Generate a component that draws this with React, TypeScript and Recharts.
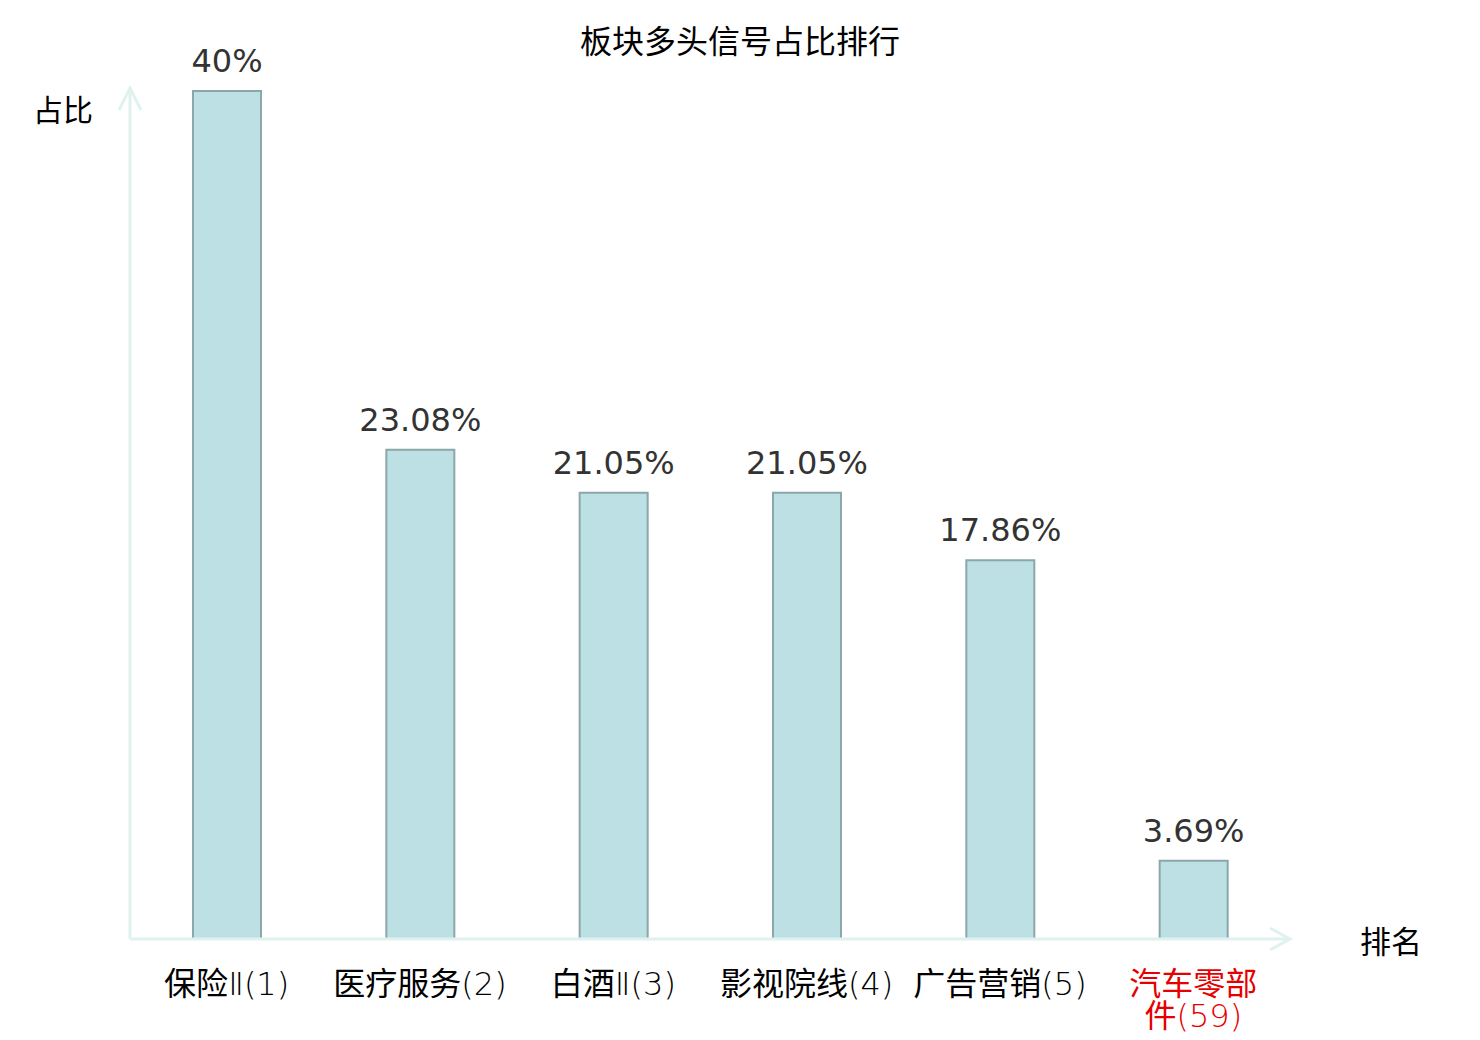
import React from "react";
import { BarChart, Bar, XAxis, YAxis, LabelList, Customized } from "recharts";

const categories = ["保险Ⅱ(1)", "医疗服务(2)", "白酒Ⅱ(3)", "影视院线(4)", "广告营销(5)", "汽车零部件(59)"];
const ratios = [40, 23.08, 21.05, 21.05, 17.86, 3.69];
const highlightCategory = "汽车零部件(59)";
const titleText = "板块多头信号占比排行";
const yAxisName = "占比";
const xAxisName = "排名";

const data = categories.map((name, i) => ({ name, value: ratios[i] }));

const W = 1480;
const H = 1040;
const M = { top: 91, right: 190, bottom: 61, left: 130 };
const X_AXIS_H = 40;
const plotLeft = M.left;
const plotRight = W - M.right;
const plotBottom = H - M.bottom - X_AXIS_H;

const CJK_FONT = '"Noto Sans CJK SC", "Noto Sans", sans-serif';
const LATIN_FONT = '"DejaVu Sans", sans-serif';
const AXIS_COLOR = "#dff2f0";
const TICK_FS = 32;

const isCJK = (c: string) => /[\u2E80-\u9FFF\uFF00-\uFFEF]/.test(c);
const charW = (c: string) => (isCJK(c) ? 1 : c === "(" || c === ")" ? 0.39 : 0.636);

function wrapLabel(text: string, maxWidth: number, fs: number): string[] {
  const chars = Array.from(text);
  const tokens: string[] = [];
  let i = 0;
  while (i < chars.length) {
    let tok = chars[i];
    i++;
    while (i < chars.length && !isCJK(chars[i])) {
      tok += chars[i];
      i++;
    }
    tokens.push(tok);
  }
  const lines: string[] = [];
  let cur = "";
  let curW = 0;
  for (const t of tokens) {
    const tw = Array.from(t).reduce((s, c) => s + charW(c) * fs, 0);
    if (cur && curW + tw > maxWidth) {
      lines.push(cur);
      cur = t;
      curW = tw;
    } else {
      cur += t;
      curW += tw;
    }
  }
  if (cur) lines.push(cur);
  return lines;
}

function splitRuns(line: string): { text: string; cjk: boolean }[] {
  const runs: { text: string; cjk: boolean }[] = [];
  for (const c of Array.from(line)) {
    const cj = isCJK(c);
    if (runs.length && runs[runs.length - 1].cjk === cj) runs[runs.length - 1].text += c;
    else runs.push({ text: c, cjk: cj });
  }
  return runs;
}

const CategoryTick = (props: any) => {
  const { x, y, payload } = props;
  const band = (plotRight - plotLeft) / categories.length;
  const lines = wrapLabel(String(payload.value), band, TICK_FS);
  const color = payload.value === highlightCategory ? "#e60000" : "#000000";
  return (
    <g>
      {lines.map((l, k) => (
        <text key={k} x={x} y={y + 56 + k * 32} textAnchor="middle" fontSize={TICK_FS} fill={color}>
          {splitRuns(l).map((r, j) => (
            <tspan
              key={j}
              fontFamily={r.cjk ? CJK_FONT : '"DejaVu Sans", "Noto Sans CJK SC", sans-serif'}
              fontWeight={r.cjk ? 400 : 200}
            >
              {r.text}
            </tspan>
          ))}
        </text>
      ))}
    </g>
  );
};

const Decorations = () => (
  <g>
    <line x1={plotLeft} y1={plotBottom} x2={plotLeft} y2={88} stroke={AXIS_COLOR} strokeWidth={3} />
    <polyline
      points={`${plotRight - 20},${plotBottom - 11} ${plotRight},${plotBottom} ${plotRight - 20},${plotBottom + 11}`}
      fill="none"
      stroke={AXIS_COLOR}
      strokeWidth={3}
    />
    <polyline
      points={`${plotLeft - 11},110 ${plotLeft},88 ${plotLeft + 11},110`}
      fill="none"
      stroke={AXIS_COLOR}
      strokeWidth={3}
    />
    <text x={W / 2} y={53} textAnchor="middle" fontFamily={CJK_FONT} fontSize={32} fill="#000">
      {titleText}
    </text>
    <text x={63} y={121} textAnchor="middle" fontFamily={CJK_FONT} fontSize={30} fill="#000">
      {yAxisName}
    </text>
    <text x={1391} y={953} textAnchor="middle" fontFamily={CJK_FONT} fontSize={31} fill="#000">
      {xAxisName}
    </text>
  </g>
);

export default function App() {
  return (
    <div style={{ position: "absolute", left: 0, top: 0, width: W, height: H, background: "#fff" }}>
      <BarChart width={W} height={H} data={data} margin={M}>
        <XAxis
          dataKey="name"
          height={X_AXIS_H}
          axisLine={{ stroke: AXIS_COLOR, strokeWidth: 3 }}
          tickLine={false}
          tickSize={0}
          tickMargin={0}
          interval={0}
          tick={<CategoryTick />}
        />
        <YAxis width={0} domain={[0, 40]} tick={false} tickLine={false} axisLine={false} />
        <Bar dataKey="value" fill="#bce0e3" stroke="#8ba7a9" strokeWidth={2} barSize={68} isAnimationActive={false}>
          <LabelList
            dataKey="value"
            position="top"
            offset={19}
            formatter={(v: any) => `${v}%`}
            fill="#333333"
            fontFamily={LATIN_FONT}
            fontSize={32}
          />
        </Bar>
        <Customized component={<Decorations />} />
      </BarChart>
    </div>
  );
}
